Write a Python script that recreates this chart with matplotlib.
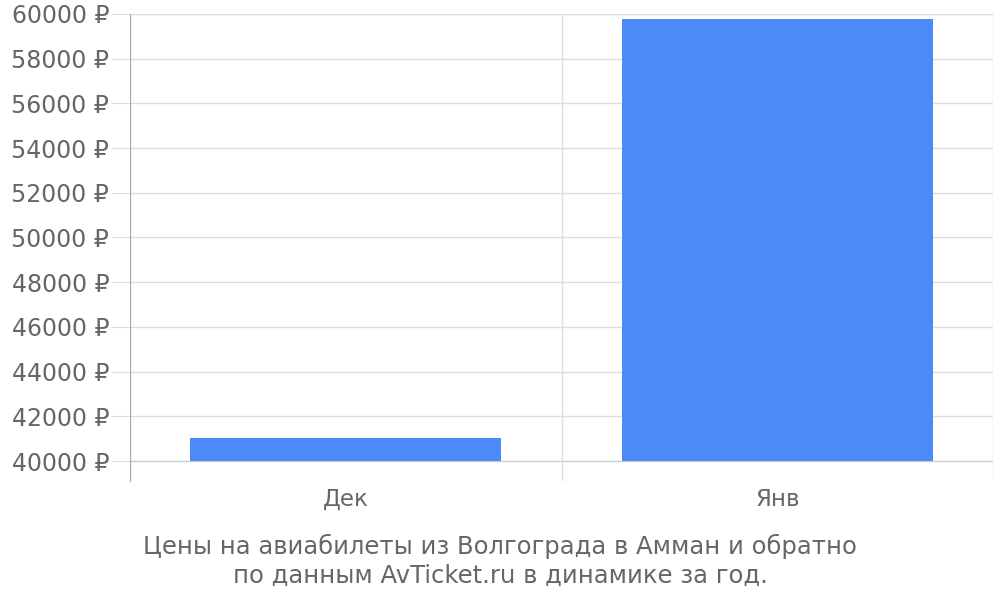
import matplotlib
matplotlib.use("Agg")
import matplotlib.pyplot as plt
from matplotlib.ticker import FuncFormatter

months = ["Дек", "Янв"]
prices = [41030, 59780]
y_ticks = list(range(40000, 60001, 2000))
caption = ("Цены на авиабилеты из Волгограда в Амман и обратно\n"
           "по данным AvTicket.ru в динамике за год.")

base = 40000
text_color = "#666666"
grid_color = "#dddddd"

fig = plt.figure(figsize=(10, 6), dpi=100)
ax = fig.add_axes([0.13, 0.198, 0.863, 0.779])

x = range(len(months))
ax.bar(x, [p - base for p in prices], bottom=base, width=0.72,
       color="#4d8af9", zorder=3)

ax.set_xlim(-0.5, len(months) - 0.5)
ax.set_ylim(base - 895, 60000)
ax.set_yticks(y_ticks)
ax.yaxis.set_major_formatter(FuncFormatter(lambda v, _: f"{int(v)} ₽"))
ax.set_xticks(list(x))
ax.set_xticklabels(months)

# horizontal grid + vertical separators between categories
for t in y_ticks:
    ax.axhline(t, color="#cccccc" if t == base else grid_color, lw=1, zorder=1)
for b in [i - 0.5 for i in range(len(months) + 1)]:
    ax.axvline(b, color=grid_color, lw=1, zorder=1)

for s in ["top", "right", "bottom"]:
    ax.spines[s].set_visible(False)
ax.spines["left"].set_color("#aaaaaa")

ax.tick_params(axis="y", length=14, color=grid_color, labelsize=17,
               labelcolor=text_color, pad=1)
ax.tick_params(axis="x", length=0, labelsize=16.5, labelcolor=text_color, pad=5)

fig.text(0.5, 0.02, caption, ha="center", va="bottom", fontsize=17.5,
         color=text_color, linespacing=1.25)

fig.savefig("out.png", dpi=100)
